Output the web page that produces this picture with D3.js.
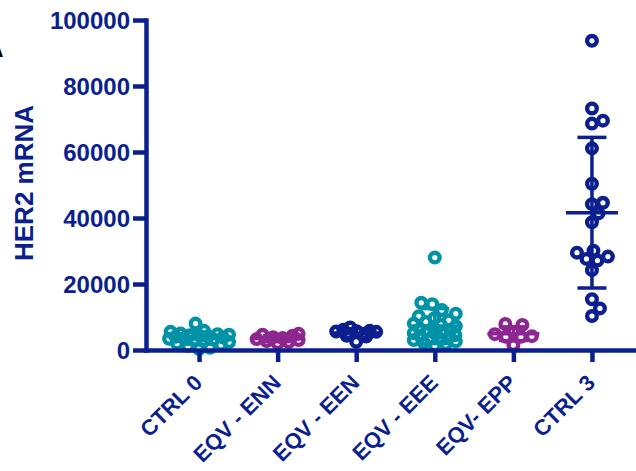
<!DOCTYPE html>
<html>
<head>
<meta charset="utf-8">
<script src="https://cdn.jsdelivr.net/npm/d3@7"></script>
<style>
  body { margin: 0; background: #fff; }
  svg { display: block; }
  text { font-family: "Liberation Sans", Arial, sans-serif; font-weight: bold; }
</style>
</head>
<body>
<svg id="chart" width="636" height="471"></svg>
<script>
// Group names along the x axis
const categories = ["CTRL 0", "EQV - ENN", "EQV - EEN", "EQV - EEE", "EQV- EPP", "CTRL 3"];

// HER2 mRNA per sample, one array per group
const ctrl0 = [8000, 5800, 5500, 5000, 4800, 4600, 4500, 4300, 4100, 4000, 3800, 3600, 3400, 3200, 3000, 2700, 2400, 2000, 1600, 1200, 700, 300];
const eqvEnn = [4900, 4600, 4300, 3900, 3600, 3300, 3000, 2700, 2400, 2100];
const eqvEen = [6800, 6100, 5800, 5600, 5500, 5700, 4300, 4100, 2500];
const eqvEee = [28000, 14300, 13900, 12100, 11000, 10200, 9600, 9000, 8500, 8000, 7600, 7200, 6800, 6400, 6000, 5700, 5400, 5100, 4800, 4500, 4200, 3900, 3600, 3300, 3000, 2600, 2200, 1800, 1400];
const eqvEpp = [7900, 7600, 5500, 4800, 4200, 4000, 4000, 1500];
const ctrl3 = [93700, 73200, 68600, 69500, 61100, 50400, 44600, 44200, 41400, 38700, 30100, 27600, 29500, 27100, 28300, 24200, 15400, 12600, 10300];

const seriesValues = [ctrl0, eqvEnn, eqvEen, eqvEee, eqvEpp, ctrl3];

// Y axis tick values
const yTicks = [0, 20000, 40000, 60000, 80000, 100000];

const NAVY = "#0b1f8e", TEAL = "#0093a7", PURPLE = "#8d2690";
const groupColors = [TEAL, PURPLE, NAVY, TEAL, PURPLE, NAVY];

const svg = d3.select("#chart");

const y = d3.scaleLinear().domain([0, 100000]).range([350, 20]);
const x = d3.scalePoint().domain(categories).range([146, 645]).padding(0.675);

// Bounded beeswarm: each point takes the offset nearest the centre that keeps
// it `gap` px from the points already placed; when the column is full, it takes
// the offset (within ±maxHalf) that is farthest from its neighbours.
function swarm(values, gap, maxHalf) {
  const order = values.map((v, i) => i).sort((a, b) => values[a] - values[b]);
  const placed = [];
  const offsets = new Array(values.length);
  const grid = d3.range(-maxHalf, maxHalf + 0.01, 0.5)
    .sort((a, b) => Math.abs(a) - Math.abs(b) || b - a);
  for (const i of order) {
    const py = y(values[i]);
    let best = 0, bestDist = -1;
    for (const c of grid) {
      const dmin = placed.length
        ? d3.min(placed, p => Math.hypot(p.x - c, p.y - py))
        : Infinity;
      if (dmin >= gap) { best = c; bestDist = Infinity; break; }
      if (dmin > bestDist + 0.01) { bestDist = dmin; best = c; }
    }
    placed.push({ x: best, y: py });
    offsets[i] = best;
  }
  return offsets;
}

// Points
const pts = svg.append("g").attr("class", "points");
seriesValues.forEach((vals, gi) => {
  const cx = x(categories[gi]);
  const offs = swarm(vals, 11, gi === 0 ? 30 : 21);
  pts.append("g")
    .selectAll("circle")
    .data(vals)
    .join("circle")
    .attr("cx", (d, i) => cx + offs[i])
    .attr("cy", d => y(d))
    .attr("r", 4.8)
    .attr("fill", "none")
    .attr("stroke", groupColors[gi])
    .attr("stroke-width", 4.4);
});

// Mean line with ± SD error bars
const bars = svg.append("g").attr("class", "mean-sd");
seriesValues.forEach((vals, gi) => {
  const cx = x(categories[gi]);
  const m = d3.mean(vals), sd = d3.deviation(vals);
  const lo = y(Math.max(0, m - sd)), hi = y(m + sd);
  const g = bars.append("g").attr("stroke", groupColors[gi]).attr("stroke-width", 3.5);
  g.append("line").attr("x1", cx).attr("x2", cx).attr("y1", hi).attr("y2", lo);
  g.append("line").attr("x1", cx - 26).attr("x2", cx + 26).attr("y1", y(m)).attr("y2", y(m));
  g.append("line").attr("x1", cx - 14.5).attr("x2", cx + 14.5).attr("y1", hi).attr("y2", hi);
  g.append("line").attr("x1", cx - 14.5).attr("x2", cx + 14.5).attr("y1", lo).attr("y2", lo);
});

// Y axis
const yAxis = svg.append("g")
  .attr("transform", "translate(146,0)")
  .call(d3.axisLeft(y).tickValues(yTicks).tickFormat(d3.format("d")).tickSize(13).tickSizeOuter(0).tickPadding(3));

// X axis
const xAxis = svg.append("g")
  .attr("transform", `translate(0,${y(0)})`)
  .call(d3.axisBottom(x).tickSize(12).tickSizeOuter(0));

[yAxis, xAxis].forEach(ax => {
  ax.select(".domain").attr("stroke", NAVY).attr("stroke-width", 4.5).attr("stroke-linecap", "square");
  ax.selectAll(".tick line").attr("stroke", NAVY).attr("stroke-width", 4.5);
  ax.selectAll(".tick text").attr("fill", NAVY).style("font-weight", "bold");
});
yAxis.selectAll(".tick text").style("font-size", "24px").attr("dy", "0.36em");
xAxis.selectAll(".tick text")
  .style("font-size", "22px")
  .attr("x", 0).attr("y", 0).attr("dy", 0)
  .attr("text-anchor", "end")
  .attr("transform", "translate(4,34) rotate(-45)");

// Axis title
svg.append("text")
  .attr("transform", "translate(33,183) rotate(-90)")
  .attr("text-anchor", "middle")
  .attr("fill", NAVY)
  .style("font-size", "26px")
  .text("HER2 mRNA");

// Panel letter at the left edge
svg.append("text")
  .attr("x", -11).attr("y", 57)
  .attr("fill", "#000")
  .style("font-size", "20px")
  .text("A");
</script>
</body>
</html>
